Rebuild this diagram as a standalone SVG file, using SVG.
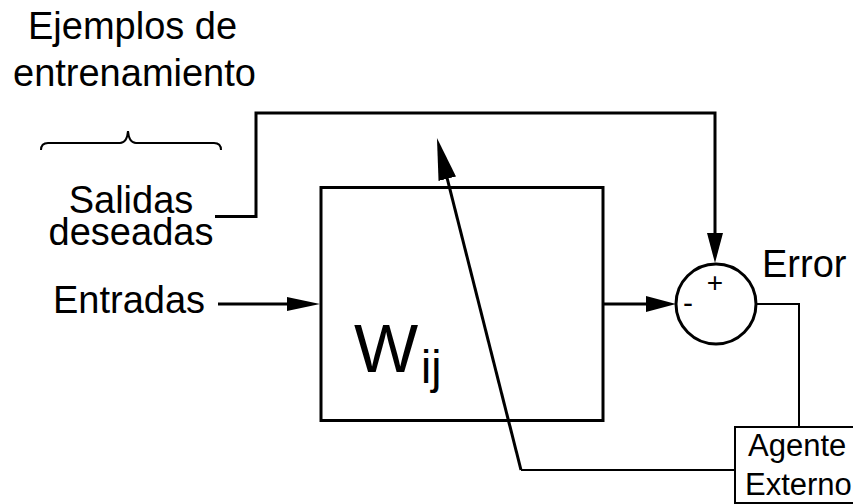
<svg xmlns="http://www.w3.org/2000/svg" width="853" height="504" viewBox="0 0 853 504">
<style>
text{font-family:"Liberation Sans",Arial,sans-serif;fill:#000}
.lbl{font-size:38px}
.thick{fill:none;stroke:#000;stroke-width:3}
.thin{fill:none;stroke:#000;stroke-width:2}
</style>
<defs>
<marker id="arrS" viewBox="0 0 33 14" refX="21" refY="7" markerWidth="33" markerHeight="14" markerUnits="userSpaceOnUse" orient="auto"><path d="M0,0 L33,7 L0,14 z" fill="#000"/></marker>
<marker id="arrM" viewBox="0 0 30 16" refX="18" refY="8" markerWidth="30" markerHeight="16" markerUnits="userSpaceOnUse" orient="auto"><path d="M0,0 L30,8 L0,16 z" fill="#000"/></marker>
<marker id="arrL" viewBox="0 0 42 18" refX="28" refY="9" markerWidth="42" markerHeight="18" markerUnits="userSpaceOnUse" orient="auto"><path d="M0,0 L42,9 L0,18 z" fill="#000"/></marker>
</defs>
<rect width="853" height="504" fill="#fff"/>
<g id="ejemplos">
<text class="lbl" x="28" y="39">Ejemplos de</text>
<text class="lbl" x="13" y="86">entrenamiento</text>
<path class="thin" stroke-width="1.5" d="M41,150 Q41,143 48,143 L120,143 Q127,143 128,131 Q129,143 136,143 L214,143 Q221,143 221,150"/>
</g>
<g id="salidas">
<text class="lbl" x="131" y="213" text-anchor="middle">Salidas</text>
<text class="lbl" x="131" y="245" text-anchor="middle">deseadas</text>
</g>
<g id="entradas">
<text class="lbl" x="53" y="313">Entradas</text>
</g>
<g id="wij">
<rect class="thick" x="321" y="187.5" width="282" height="233"/>
<text x="354" y="372" font-size="68px">W</text>
<text x="421" y="383" font-size="46px">ij</text>
</g>
<g id="suma">
<circle class="thick" cx="716" cy="304" r="40"/>
<text x="715" y="292" font-size="28px" text-anchor="middle">+</text>
<text x="688" y="313" font-size="30px" text-anchor="middle">-</text>
</g>
<g id="error">
<text class="lbl" x="762" y="277">Error</text>
</g>
<g id="agente">
<rect class="thin" x="735" y="427" width="130" height="76"/>
<text x="748" y="456" font-size="31px">Agente</text>
<text x="745" y="495" font-size="31px">Externo</text>
</g>
<g id="connectors">
<polyline class="thick" points="215,216.5 256,216.5 256,113 715,113 715,251" marker-end="url(#arrM)"/>
<line class="thick" x1="218" y1="304" x2="308" y2="304" marker-end="url(#arrS)"/>
<line class="thick" x1="603" y1="304" x2="664" y2="304" marker-end="url(#arrM)"/>
<polyline class="thin" points="756,304 799,304 799,427"/>
<polyline class="thin" points="735,470 521,470"/>
<line class="thick" x1="521" y1="470" x2="440.4" y2="151.6" marker-end="url(#arrL)"/>
</g>
</svg>
